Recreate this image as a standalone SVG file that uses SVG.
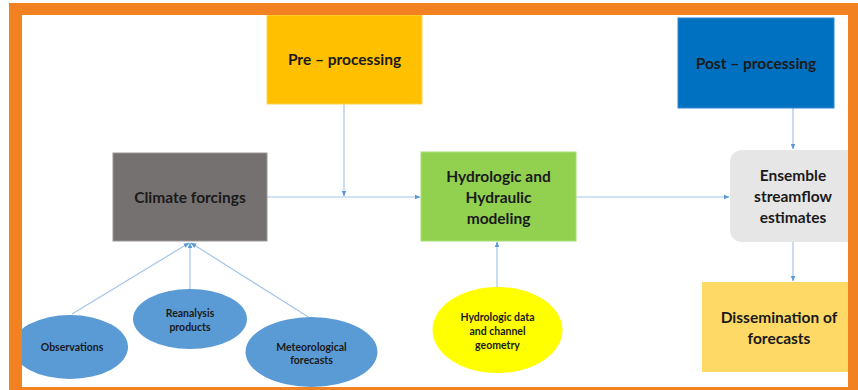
<svg xmlns="http://www.w3.org/2000/svg" width="858" height="390" viewBox="0 0 858 390">
<style>
.t{font-family:Lato,"Liberation Sans",sans-serif;font-weight:bold;fill:#1a1a1a;text-anchor:middle}
.big{font-size:15.5px}
.sm{font-size:10.5px}
.c{stroke:#A4C6EA;stroke-width:1.2;fill:none}
</style>
<defs>
<marker id="ah" viewBox="0 0 10 10" refX="9" refY="5" markerWidth="6" markerHeight="6" orient="auto" markerUnits="userSpaceOnUse">
<path d="M0,1 L10,5 L0,9 z" fill="#5B9BD5"/>
</marker>
</defs>
<rect x="0" y="0" width="858" height="390" fill="#ffffff"/>

<g id="connectors">
<line class="c" x1="267" y1="197" x2="420" y2="197" marker-end="url(#ah)"/>
<line class="c" x1="344" y1="104" x2="344" y2="196" marker-end="url(#ah)"/>
<line class="c" x1="576" y1="197" x2="729" y2="197" marker-end="url(#ah)"/>
<line class="c" x1="793" y1="108" x2="793" y2="149" marker-end="url(#ah)"/>
<line class="c" x1="793" y1="242" x2="793" y2="281" marker-end="url(#ah)"/>
<line class="c" x1="497" y1="288" x2="497" y2="242" marker-end="url(#ah)"/>
<line class="c" x1="72" y1="314" x2="189" y2="243" marker-end="url(#ah)"/>
<line class="c" x1="190" y1="289" x2="190" y2="243" marker-end="url(#ah)"/>
<line class="c" x1="310" y1="318" x2="191" y2="243" marker-end="url(#ah)"/>
</g>

<g id="pre">
<rect x="267" y="15" width="155" height="89" fill="#FFC000" stroke="#FFD24D" stroke-width="1"/>
<text class="t big" x="344.5" y="65">Pre – processing</text>
</g>
<g id="post">
<rect x="678" y="18" width="156" height="90" fill="#0070C0" stroke="#2E86CF" stroke-width="1"/>
<text class="t big" x="756" y="69">Post – processing</text>
</g>
<g id="climate">
<rect x="113" y="153" width="154" height="88" fill="#767171" stroke="#9a9696" stroke-width="1"/>
<text class="t big" x="190" y="203">Climate forcings</text>
</g>
<g id="hydro">
<rect x="421" y="152" width="155" height="89" fill="#92D050" stroke="#a8dc70" stroke-width="1"/>
<text class="t big" x="498.5" y="182">Hydrologic and</text>
<text class="t big" x="498.5" y="203">Hydraulic</text>
<text class="t big" x="498.5" y="224">modeling</text>
</g>
<g id="ensemble">
<rect x="730" y="150" width="130" height="92" rx="12" fill="#E7E6E6"/>
<text class="t big" x="793" y="181">Ensemble</text>
<text class="t big" x="793" y="202">streamflow</text>
<text class="t big" x="793" y="223">estimates</text>
</g>
<g id="dissemination">
<rect x="702" y="282" width="150" height="90" fill="#FFD966"/>
<text class="t big" x="779" y="323">Dissemination of</text>
<text class="t big" x="779" y="344">forecasts</text>
</g>
<g id="observations">
<ellipse cx="70" cy="347" rx="58" ry="32" fill="#5B9BD5"/>
<text class="t sm" x="72" y="351">Observations</text>
</g>
<g id="reanalysis">
<ellipse cx="190" cy="319" rx="57" ry="30" fill="#5B9BD5"/>
<text class="t sm" x="190" y="317">Reanalysis</text>
<text class="t sm" x="190" y="331">products</text>
</g>
<g id="meteorological">
<ellipse cx="311.5" cy="352" rx="66" ry="35" fill="#5B9BD5"/>
<text class="t sm" x="311.5" y="351">Meteorological</text>
<text class="t sm" x="311.5" y="364">forecasts</text>
</g>
<g id="hydrodata">
<ellipse cx="497.5" cy="330" rx="65" ry="43" fill="#FFFF00"/>
<text class="t sm" x="497.5" y="321">Hydrologic data</text>
<text class="t sm" x="497.5" y="335">and channel</text>
<text class="t sm" x="497.5" y="349">geometry</text>
</g>
<path id="frame" fill="#F28121" fill-rule="evenodd" d="M9,3 H858 V390 H9 Z M22,15 H848 V387 H22 Z"/>
</svg>
